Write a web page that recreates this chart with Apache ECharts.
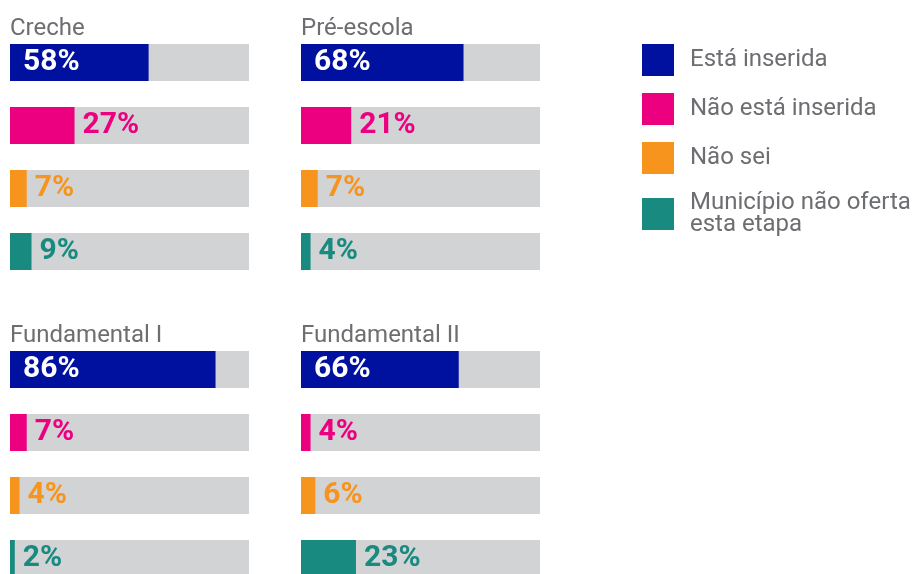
<!DOCTYPE html>
<html>
<head>
<meta charset="utf-8">
<script src="https://cdn.jsdelivr.net/npm/echarts@6/dist/echarts.min.js"></script>
<style>
  html, body { margin: 0; padding: 0; background: #fff; }
  #chart { width: 918px; height: 574px; }
</style>
</head>
<body>
<div id="chart"></div>
<script>
// etapas de ensino e respostas
const etapas = ["Creche", "Pré-escola", "Fundamental I", "Fundamental II"];
const situacoes = ["Está inserida", "Não está inserida", "Não sei", "Município não oferta\nesta etapa"];

// percentuais por etapa, na ordem de situacoes
const creche = [58, 27, 7, 9];
const preEscola = [68, 21, 7, 4];
const fundamental1 = [86, 7, 4, 2];
const fundamental2 = [66, 4, 6, 23];
const valores = [creche, preEscola, fundamental1, fundamental2];

const cores = ["#0011a0", "#ec0080", "#f7941e", "#188a7f"];
const cinza = "#6d6e71";

// posicao de cada painel
const paineis = [
  { left: 10, top: 31 },
  { left: 301, top: 31 },
  { left: 10, top: 338 },
  { left: 301, top: 338 },
];

var chart = echarts.init(document.getElementById("chart"));

var grid = [], xAxis = [], yAxis = [], title = [], series = [];

paineis.forEach(function (p, i) {
  // o painel de baixo passa da borda da figura (como no original)
  grid.push({ left: p.left, top: p.top, width: 239, bottom: 574 - p.top - 252, outerBoundsMode: "none" });
  xAxis.push({ gridIndex: i, type: "value", min: 0, max: 100, show: false });
  yAxis.push({
    gridIndex: i, type: "category", inverse: true, show: false,
    data: situacoes,
  });
  title.push({
    text: etapas[i],
    left: p.left,
    top: p.top - 14,
    padding: 0,
    textStyle: { fontFamily: "Roboto", fontSize: 24, fontWeight: "normal", color: cinza },
  });

  situacoes.forEach(function (nome, s) {
    series.push({
      name: nome,
      type: "bar",
      xAxisIndex: i,
      yAxisIndex: i,
      barWidth: 37,
      barGap: "-100%",
      showBackground: s === 0,
      backgroundStyle: { color: "#d1d3d4" },
      itemStyle: { color: cores[s] },
      data: situacoes.map(function (_, k) { return k === s ? valores[i][s] : "-"; }),
      label: {
        show: true,
        formatter: "{c}%",
        position: s === 0 ? "insideLeft" : "right",
        distance: s === 0 ? 13 : 8,
        color: s === 0 ? "#fff" : cores[s],
        fontFamily: "Roboto",
        fontSize: 30,
        fontWeight: "bold",
      },
    });
  });
});

var option = {
  animation: false,
  title: title,
  grid: grid,
  xAxis: xAxis,
  yAxis: yAxis,
  legend: {
    data: situacoes,
    orient: "vertical",
    left: 642,
    top: 44,
    padding: 0,
    itemWidth: 32,
    itemHeight: 32,
    itemGap: 17,
    icon: "rect",
    selectedMode: false,
    textStyle: {
      fontFamily: "Roboto",
      fontSize: 24,
      lineHeight: 22,
      color: cinza,
      padding: [0, 0, 0, 11],
    },
  },
  series: series,
};

chart.setOption(option);
</script>
</body>
</html>
